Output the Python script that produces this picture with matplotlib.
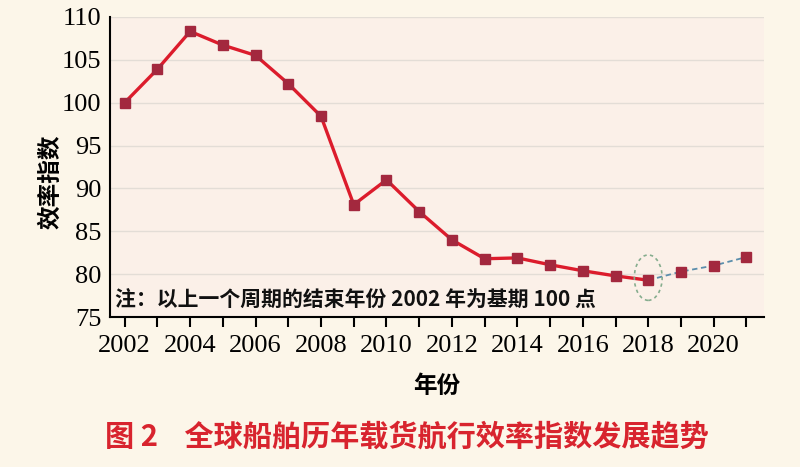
import matplotlib
matplotlib.use("Agg")
import matplotlib.pyplot as plt
from matplotlib.patches import Ellipse

years = [2002, 2003, 2004, 2005, 2006, 2007, 2008, 2009, 2010, 2011,
         2012, 2013, 2014, 2015, 2016, 2017, 2018, 2019, 2020, 2021]
values = [100.0, 103.9, 108.3, 106.7, 105.5, 102.2, 98.4, 88.1, 91.0, 87.3,
          84.0, 81.8, 81.9, 81.1, 80.4, 79.8, 79.3, 80.3, 81.0, 82.0]
split = 16  # index of 2018, last actual year

yticks = [75, 80, 85, 90, 95, 100, 105, 110]
xlabels = [2002, 2004, 2006, 2008, 2010, 2012, 2014, 2016, 2018, 2020]

title = "图 2    全球船舶历年载货航行效率指数发展趋势"
xlab = "年份"
ylab = "效率指数"
note = "注：以上一个周期的结束年份 2002 年为基期 100 点"

bg = "#fcf6e9"
fig = plt.figure(figsize=(8, 4.67), dpi=100, facecolor=bg)
ax = fig.add_axes([0.1375, 0.321, 0.818, 0.643])
ax.set_facecolor("#fbf0e8")

cjk = ["Noto Sans CJK SC", "DejaVu Sans"]
serif = "Liberation Serif"

ax.grid(axis="y", color="#e3ddd6", linewidth=1.0)
ax.set_axisbelow(True)

ax.plot(years[split:], values[split:], color="#5b8eac", linewidth=1.3,
        linestyle=(0, (3, 2)), zorder=3)
ax.plot(years[:split + 1], values[:split + 1], color="#dc1c2c", linewidth=2.4, zorder=4)
ax.plot(years, values, linestyle="none", marker="s", markersize=6.5,
        color="#a3283e", zorder=5)

ell = Ellipse((years[split], values[split] + 0.3), 0.85, 5.3, fill=False,
              edgecolor="#86ad8e", linestyle=(0, (2, 2)), linewidth=1.2, zorder=6)
ax.add_patch(ell)

ax.set_xlim(2001.55, 2021.55)
ax.set_ylim(75, 110)
ax.set_yticks(yticks)
ax.set_yticklabels([str(v) for v in yticks], fontfamily=serif, fontsize=19)
ax.set_xticks(years, minor=True)
ax.set_xticks(xlabels)
ax.set_xticklabels([str(v) for v in xlabels], fontfamily=serif, fontsize=19)
ax.tick_params(axis="x", which="both", direction="out", length=7, width=1.5,
               colors="black", pad=6)
ax.tick_params(axis="y", length=0, pad=6)

for s in ["top", "right"]:
    ax.spines[s].set_visible(False)
for s in ["left", "bottom"]:
    ax.spines[s].set_linewidth(1.5)
    ax.spines[s].set_color("black")

ax.set_xlabel(xlab, family=cjk, fontsize=17, fontweight="bold", labelpad=12)
ax.set_ylabel(ylab, family=cjk, fontsize=17, fontweight="bold")
ax.yaxis.set_label_coords(-0.072, 0.45)

ax.text(0.008, 0.055, note, transform=ax.transAxes, family=cjk, fontsize=15,
        fontweight="bold", va="center", ha="left", color="#111111")

fig.text(0.131, 0.064, title, family=cjk, fontsize=21, fontweight="bold",
         color="#d8242e", va="center", ha="left")

fig.savefig("out.png", dpi=100, facecolor=bg)
